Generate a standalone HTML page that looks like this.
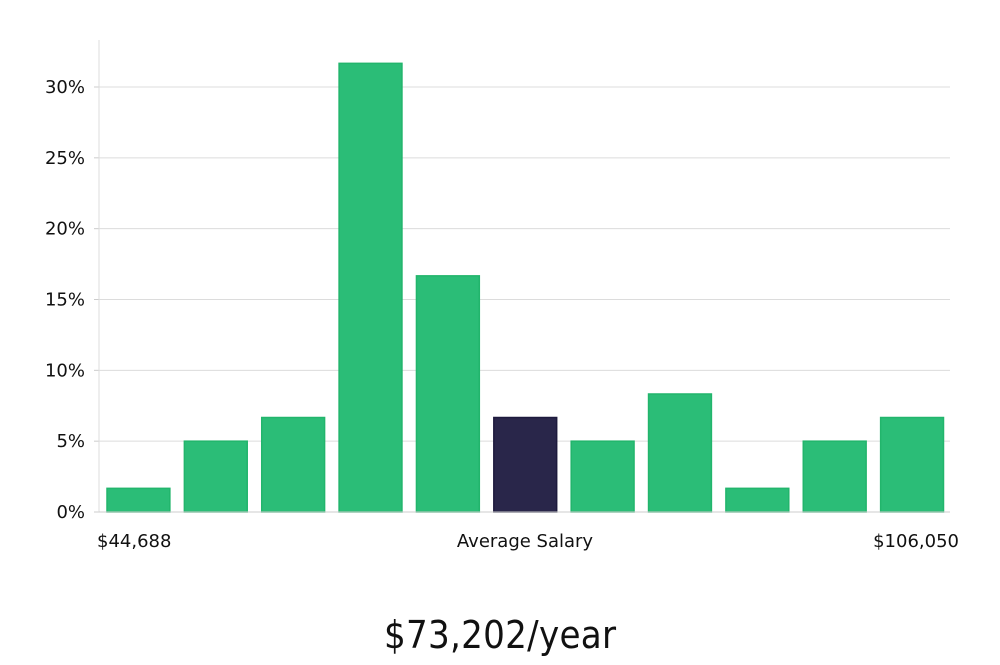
<!DOCTYPE html>
<html><head><meta charset="utf-8"><style>
body{margin:0;background:#fff;width:1000px;height:660px;overflow:hidden}
svg text{font-family:"DejaVu Sans","Liberation Sans",sans-serif;fill:#111}
</style></head><body>
<svg id="chart" width="1000" height="660" xmlns="http://www.w3.org/2000/svg">
<g id="grid"></g><g id="bars"></g><g id="axes"></g>
<text x="97" y="547" font-size="18">$44,688</text>
<text x="525" y="547" font-size="18" text-anchor="middle">Average Salary</text>
<text x="959" y="547" font-size="18" text-anchor="end">$106,050</text>
<text x="500" y="648" font-size="38" text-anchor="middle" style="font-family:'DejaVu Sans Condensed','Liberation Sans Narrow',sans-serif;font-weight:300" textLength="232">$73,202/year</text>
</svg>
<script>
const categories=["b1","b2","b3","b4","b5","b6","b7","b8","b9","b10","b11"];
const values=[1.67,5,6.67,31.67,16.67,6.67,5,8.33,1.67,5,6.67];
const highlight=[false,false,false,false,false,true,false,false,false,false,false];
const yTicks=[0,5,10,15,20,25,30];
const yTickLabels=["0%","5%","10%","15%","20%","25%","30%"];
const NS="http://www.w3.org/2000/svg";
const x0=99,x1=950,yBase=512,yTop=40;
const pxPer=(512-87)/30;
function y(v){return yBase-v*pxPer;}
const band=(x1-x0)/categories.length;
function xb(i){return x0+i*band;}
function mk(t,a,p){const e=document.createElementNS(NS,t);for(const k in a)e.setAttribute(k,a[k]);p.appendChild(e);return e;}
const grid=document.getElementById('grid'),bars=document.getElementById('bars'),axes=document.getElementById('axes');
yTicks.forEach((t,i)=>{
 if(t>0){const g=mk('line',{x1:x0,x2:x1,y1:y(t),y2:y(t),stroke:'#dcdcdc','stroke-width':1},grid);
 
 }
 const tk=mk('line',{x1:x0-5,x2:x0,y1:y(t),y2:y(t),stroke:'#ccc'},axes);
 
 
 const tx=mk('text',{x:x0-14,y:y(t)+6,'font-size':18,'text-anchor':'end'},axes);
 tx.textContent=yTickLabels[i];
 
 
});
values.forEach((v,i)=>{
 const r=mk('rect',{x:xb(i)+8,y:y(v),width:band-14.5,height:yBase-y(v),fill:highlight[i]?'#29264a':'#2bbd77',stroke:highlight[i]?'#1d1a3d':'#22b56c','stroke-width':1.5},bars);
 
 
});
const ya=mk('line',{x1:x0,x2:x0,y1:yTop,y2:yBase,stroke:'#ddd'},axes);


const xa=mk('line',{x1:x0,x2:x1,y1:yBase,y2:yBase,stroke:'#ccc'},axes);


</script>
</body></html>
